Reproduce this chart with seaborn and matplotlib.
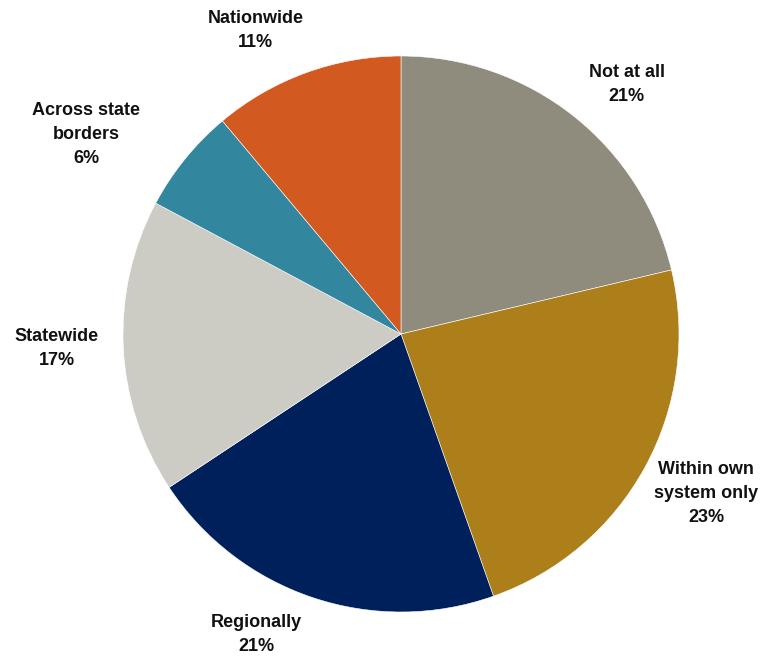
import numpy as np
import matplotlib.pyplot as plt
import seaborn as sns

categories = ["Not at all", "Within own\nsystem only", "Regionally", "Statewide",
              "Across state\nborders", "Nationwide"]
shares = [21.3, 23.3, 21.1, 17.1, 6.1, 11.1]
pct_labels = ["21%", "23%", "21%", "17%", "6%", "11%"]
colors = ["#8F8C7E", "#AD7F1A", "#00205B", "#CCCBC4", "#32879F", "#D2591F"]

# label placement: distance from centre (in radii) and small angle nudge (deg)
label_dist = [1.21, 1.24, 1.20, 1.24, 1.34, 1.21]
label_nudge = [-3.8, 1.0, -7.2, -0.3, 6.7, 5.6]

sns.set_theme(style="white")
plt.rcParams["font.family"] = ["Liberation Sans", "DejaVu Sans"]

fig = plt.figure(figsize=(7.75, 6.56), dpi=100)
cx, cy, r = 401, 334, 278
ax = fig.add_axes([(cx - r) / 775, (656 - cy - r) / 656, 2 * r / 775, 2 * r / 656])

wedges, _ = ax.pie(shares, colors=colors, startangle=90, counterclock=False,
                   radius=1.0, wedgeprops=dict(linewidth=0.4, edgecolor="white"))

for w, cat, pct, d, nud in zip(wedges, categories, pct_labels, label_dist, label_nudge):
    mid = np.deg2rad((w.theta1 + w.theta2) / 2 + nud)
    ax.text(d * np.cos(mid), d * np.sin(mid), f"{cat}\n{pct}", ha="center", va="center",
            fontsize=13, fontweight="bold", color="#111111", linespacing=1.55,
            clip_on=False)

ax.set_xlim(-1, 1)
ax.set_ylim(-1, 1)
ax.set_aspect("equal")
ax.axis("off")

fig.savefig("out.png", dpi=100)
